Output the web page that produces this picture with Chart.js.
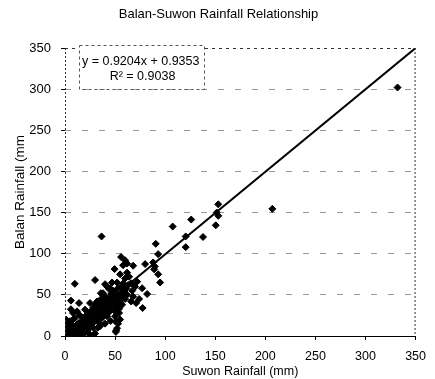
<!DOCTYPE html>
<html>
<head>
<meta charset="utf-8">
<script src="https://cdn.jsdelivr.net/npm/chart.js@4.4.0/dist/chart.umd.min.js"></script>
<style>
  html, body { margin: 0; padding: 0; background: #fff; }
  #wrap { width: 435px; height: 379px; }
</style>
</head>
<body>
<div id="wrap"><canvas id="chart" width="435" height="379"></canvas></div>
<script>
// --- data (mm) ---
const suwonX = [
  36.5, 107.5, 90.6, 93, 80, 68, 49.5, 88, 89.6, 93, 95, 62, 52, 67, 77, 82, 77.5, 50.5, 52, 50,
  153, 153, 151.5, 126, 150.5, 120.5, 137.8, 120.5, 207, 332, 30, 9.8, 40, 35.8, 44, 5.9, 5.9, 45.6, 32.6, 51,
  1, 25, 50.8, 89,
  0, 1, 2, 2, 3, 3, 4, 4, 5, 5, 6, 6, 7, 7, 8, 8, 9, 9, 10, 10,
  11, 11, 12, 12, 13, 13, 14, 14, 15, 15, 1, 2, 3, 1, 4, 6, 0, 1, 5, 8,
  16, 17, 18, 18, 19, 20, 20, 21, 22, 22, 23, 24, 24, 25, 26, 26, 27, 28, 28, 29,
  30, 30, 31, 32, 32, 33, 34, 34, 35, 36, 36, 37, 38, 38, 39, 40, 40, 41, 42, 42,
  43, 44, 44, 45, 46, 46, 47, 48, 48, 49, 50, 50, 51, 52, 52, 53, 54, 54, 55, 56,
  56, 57, 58, 58, 59, 60, 60, 61, 62, 63, 55, 53, 54, 12, 15, 10, 20, 25, 14, 8,
  22, 28, 35, 40, 30, 18, 45, 38, 42, 47, 55, 58, 60, 56, 62, 64, 66, 70, 72, 68,
  74, 71, 66
];
const balanY = [
  121, 133, 112, 99.5, 87.4, 85.4, 81.3, 89.4, 84.5, 75, 65, 77, 65, 55, 58, 51, 34, 17.5, 9.4, 30,
  160, 146, 150, 141.5, 134.5, 121, 120.3, 108, 154.5, 302, 68, 63.4, 63, 52, 57, 43, 32.5, 18.3, 10, 6.5,
  20, 1.5, 5, 81,
  0, 1, 0, 3, 2, 5, 1, 4, 3, 7, 2, 6, 4, 9, 1, 6, 3, 10, 5, 8,
  12, 2, 7, 14, 4, 10, 16, 8, 12, 3, 6, 10, 14, 17, 12, 15, 4, 9, 18, 20,
  6, 14, 19, 9, 22, 12, 17, 25, 14, 20, 28, 18, 9, 23, 30, 14, 20, 26, 34, 17,
  24, 38, 29, 21, 42, 33, 26, 16, 37, 30, 45, 22, 34, 41, 28, 37, 48, 32, 24, 42,
  36, 46, 29, 40, 51, 34, 44, 38, 55, 47, 42, 24, 50, 36, 57, 45, 40, 28, 50, 44,
  60, 38, 48, 64, 54, 45, 70, 58, 50, 62, 20, 15, 33, 30, 25, 22, 32, 40, 40, 28,
  5, 10, 12, 15, 3, 2, 58, 52, 60, 65, 75, 86, 92, 96, 88, 72, 64, 60, 66, 48,
  45, 40, 42
];
const trendX = [1, 350];
const trendY = [0, 350];
const tickStep = 50;
const axisMax = 350;
const chartTitle = 'Balan-Suwon Rainfall Relationship';
const xTitle = 'Suwon Rainfall (mm)';
const yTitle = 'Balan Rainfall (mm';
const eqLines = ['y = 0.9204x + 0.9353', 'R\u00B2 = 0.9038'];

const FONT = "'Liberation Sans', Arial, sans-serif";
const NARROW = "'Liberation Sans Narrow', 'Liberation Sans', Arial, sans-serif";

// frame (dashed top, dotted left/right) and the equation box
const framePlugin = {
  id: 'frame',
  afterDraw(chart) {
    const { ctx, chartArea: a } = chart;
    ctx.save();
    ctx.strokeStyle = '#333';
    ctx.lineWidth = 1;
    ctx.setLineDash([3, 4]);
    ctx.beginPath();
    ctx.moveTo(a.left, a.top + 0.5);
    ctx.lineTo(a.right, a.top + 0.5);
    ctx.stroke();
    ctx.setLineDash([2, 2]);
    ctx.beginPath();
    ctx.moveTo(a.right - 0.5, a.top);
    ctx.lineTo(a.right - 0.5, a.bottom);
    ctx.moveTo(a.left + 0.5, a.top);
    ctx.lineTo(a.left + 0.5, a.bottom);
    ctx.stroke();

    // equation box
    const bx = a.left + 14, by = a.top - 3, bw = 125, bh = 44;
    ctx.fillStyle = '#fff';
    ctx.fillRect(bx, by, bw, bh);
    ctx.setLineDash([3, 3]);
    ctx.strokeStyle = '#555';
    ctx.strokeRect(bx + 0.5, by + 0.5, bw, bh);
    ctx.setLineDash([]);
    ctx.fillStyle = '#000';
    ctx.font = '12.5px ' + FONT;
    ctx.textBaseline = 'middle';
    ctx.textAlign = 'left';
    ctx.fillText(eqLines[0], bx + 3, by + 17);
    ctx.textAlign = 'center';
    ctx.fillText(eqLines[1], bx + bw / 2 + 1, by + 32);
    ctx.restore();
  }
};

new Chart(document.getElementById('chart'), {
  type: 'scatter',
  data: {
    datasets: [
      {
        label: 'Balan vs Suwon',
        data: suwonX.map((x, i) => ({ x: x, y: balanY[i] })),
        pointStyle: 'rectRot',
        pointRadius: 3.5,
        pointBackgroundColor: '#000',
        pointBorderColor: '#000',
        pointBorderWidth: 1,
        order: 2
      },
      {
        type: 'line',
        label: 'Linear trend',
        data: trendX.map((x, i) => ({ x: x, y: trendY[i] })),
        borderColor: '#000',
        borderWidth: 2,
        pointRadius: 0,
        fill: false,
        order: 1
      }
    ]
  },
  options: {
    responsive: false,
    animation: false,
    devicePixelRatio: 1,
    layout: { padding: { left: 14, right: 12, top: 0, bottom: 0 } },
    plugins: {
      legend: { display: false },
      tooltip: { enabled: false },
      title: {
        display: true,
        text: chartTitle,
        color: '#000',
        font: { family: FONT, size: 13, weight: 'normal' },
        padding: { top: 7, bottom: 25.4 }
      }
    },
    scales: {
      x: {
        type: 'linear',
        min: 0,
        max: axisMax,
        ticks: { stepSize: tickStep, color: '#000', font: { family: NARROW, size: 12.5 }, padding: 9 },
        grid: { drawOnChartArea: false, tickLength: 4, color: '#000' },
        border: { color: '#000', width: 1 },
        title: { display: true, text: xTitle, color: '#000', font: { family: NARROW, size: 12.5 }, padding: { top: 0, bottom: 0 } },
        afterFit: s => { s.height = 43; }
      },
      y: {
        type: 'linear',
        min: 0,
        max: axisMax,
        ticks: { stepSize: tickStep, color: '#000', font: { family: NARROW, size: 13 }, padding: 10 },
        grid: {
          tickLength: 4,
          tickColor: '#000',
          color: ctx => (ctx.tick && (ctx.tick.value === 0 || ctx.tick.value === axisMax)) ? 'rgba(0,0,0,0)' : '#999'
        },
        border: { display: false, dash: [6, 11] },
        title: { display: true, text: yTitle, color: '#000', font: { family: FONT, size: 13.5 }, padding: { top: -2, bottom: 0 } },
        afterFit: s => { s.width = 51; }
      }
    }
  },
  plugins: [framePlugin]
});
</script>
</body>
</html>
